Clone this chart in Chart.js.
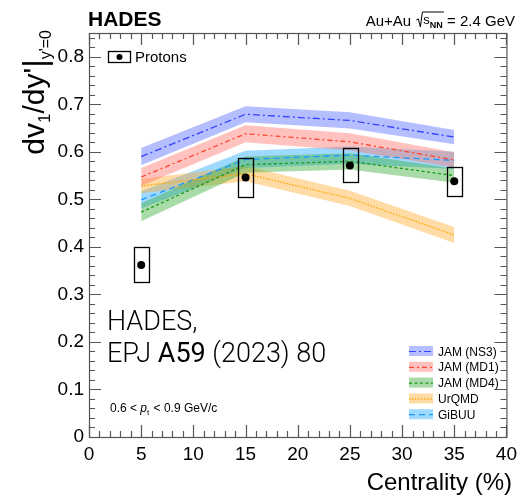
<!DOCTYPE html>
<html>
<head>
<meta charset="utf-8">
<script src="https://cdn.jsdelivr.net/npm/chart.js@4.4.1/dist/chart.umd.min.js"></script>
<style>
  html, body { margin: 0; padding: 0; background: #ffffff; }
  #wrap { width: 523px; height: 498px; position: relative; }
</style>
</head>
<body>
<div id="wrap"><canvas id="c"></canvas></div>
<script>
// Centrality classes (%)
const centrality = [5, 15, 25, 35];

// Proton dv1/dy' at y'=0 with systematic uncertainties
const protonSlope = [0.362, 0.546, 0.571, 0.538];
const protonSys = [0.037, 0.041, 0.036, 0.031];

// Transport model predictions: central value and half-width of the band
const jamNS3 = [0.590, 0.679, 0.666, 0.631];
const jamNS3Err = [0.018, 0.017, 0.017, 0.015];
const jamMD1 = [0.547, 0.638, 0.621, 0.583];
const jamMD1Err = [0.019, 0.018, 0.018, 0.016];
const jamMD4 = [0.473, 0.573, 0.580, 0.550];
const jamMD4Err = [0.019, 0.017, 0.017, 0.015];
const urqmd = [0.528, 0.554, 0.502, 0.425];
const urqmdErr = [0.015, 0.016, 0.016, 0.017];
const gibuu = [0.499, 0.584, 0.593, 0.582];
const gibuuErr = [0.018, 0.018, 0.018, 0.018];

const modelNames = ['JAM (NS3)', 'JAM (MD1)', 'JAM (MD4)', 'UrQMD', 'GiBUU'];

// Axis tick labels
const xTickLabels = ['0', '5', '10', '15', '20', '25', '30', '35', '40'];
const yTickLabels = ['0', '0.1', '0.2', '0.3', '0.4', '0.5', '0.6', '0.7', '0.8'];

const models = [
  { name: modelNames[0], mid: jamNS3, err: jamNS3Err, line: '#3344ff', band: 'rgba(90,110,255,0.45)', dash: [7, 3, 2, 3] },
  { name: modelNames[1], mid: jamMD1, err: jamMD1Err, line: '#ff4433', band: 'rgba(255,110,100,0.42)', dash: [5, 3, 2, 3] },
  { name: modelNames[2], mid: jamMD4, err: jamMD4Err, line: '#1a9a1a', band: 'rgba(50,170,50,0.42)', dash: [3, 2.5] },
  { name: modelNames[3], mid: urqmd, err: urqmdErr, line: '#ffa500', band: 'rgba(255,170,40,0.42)', dash: [1.5, 1.5] },
  { name: modelNames[4], mid: gibuu, err: gibuuErr, line: '#1899ff', band: 'rgba(40,170,255,0.45)', dash: [6, 4] }
];

const FONT = '"Liberation Sans", Arial, Helvetica, sans-serif';
const LIGHT = 'Roboto, "Liberation Sans", sans-serif';

const datasets = [];
// protons first so they are drawn on top
datasets.push({
  label: 'Protons',
  data: centrality.map((x, i) => ({ x: x, y: protonSlope[i] })),
  showLine: false,
  pointRadius: 4,
  pointHoverRadius: 4,
  pointBackgroundColor: '#000',
  pointBorderColor: '#000',
  borderWidth: 0
});
models.forEach(m => {
  datasets.push({
    label: m.name,
    data: centrality.map((x, i) => ({ x: x, y: m.mid[i] })),
    borderColor: m.line,
    borderDash: m.dash,
    borderWidth: 1.3,
    pointRadius: 0,
    fill: false,
    tension: 0
  });
});
models.forEach(m => {
  datasets.push({
    label: m.name + ' upper',
    data: centrality.map((x, i) => ({ x: x, y: m.mid[i] + m.err[i] })),
    borderWidth: 0,
    borderColor: 'rgba(0,0,0,0)',
    pointRadius: 0,
    backgroundColor: m.band,
    fill: '+1',
    tension: 0
  });
  datasets.push({
    label: m.name + ' lower',
    data: centrality.map((x, i) => ({ x: x, y: m.mid[i] - m.err[i] })),
    borderWidth: 0,
    borderColor: 'rgba(0,0,0,0)',
    pointRadius: 0,
    fill: false,
    tension: 0
  });
});

// Frame, inward ticks, systematic boxes, legends and annotations
const decorations = {
  id: 'decorations',
  afterDatasetsDraw(chart) {
    const { ctx, scales: { x, y } } = chart;
    ctx.save();
    ctx.strokeStyle = '#000';
    ctx.lineWidth = 1.3;
    centrality.forEach((c, i) => {
      const x0 = x.getPixelForValue(c - 0.7), x1 = x.getPixelForValue(c + 0.7);
      const y0 = y.getPixelForValue(protonSlope[i] + protonSys[i]);
      const y1 = y.getPixelForValue(protonSlope[i] - protonSys[i]);
      ctx.strokeRect(Math.round(x0) + 0.5, Math.round(y0) + 0.5, Math.round(x1 - x0), Math.round(y1 - y0));
    });
    ctx.restore();
  },
  afterDraw(chart) {
    const { ctx, chartArea: a, scales: { x, y } } = chart;
    ctx.save();
    // frame
    ctx.strokeStyle = '#555';
    ctx.lineWidth = 1.2;
    ctx.strokeRect(a.left + 0.5, a.top + 0.5, a.right - a.left, a.bottom - a.top);
    // x ticks (bottom and top)
    ctx.beginPath();
    for (let v = 0; v <= 40; v += 1) {
      const px = Math.round(x.getPixelForValue(v)) + 0.5;
      const len = v % 5 === 0 ? 12 : 6;
      ctx.moveTo(px, a.bottom); ctx.lineTo(px, a.bottom - len);
      ctx.moveTo(px, a.top); ctx.lineTo(px, a.top + len);
    }
    // y ticks (left and right)
    for (let k = 0; k <= 42; k++) {
      const v = k * 0.02;
      const py = Math.round(y.getPixelForValue(v)) + 0.5;
      const len = k % 5 === 0 ? 12 : 6;
      ctx.moveTo(a.left, py); ctx.lineTo(a.left + len, py);
      ctx.moveTo(a.right, py); ctx.lineTo(a.right - len, py);
    }
    ctx.stroke();

    // header
    ctx.fillStyle = '#000';
    ctx.textBaseline = 'alphabetic';
    ctx.font = 'bold 21px ' + FONT;
    ctx.textAlign = 'left';
    ctx.fillText('HADES', 88, 26);

    // Au+Au sqrt(s_NN) = 2.4 GeV
    const p1 = 'Au+Au ';
    const p3 = ' = 2.4 GeV';
    ctx.font = '15px ' + FONT;
    const w1 = ctx.measureText(p1).width;
    const w3 = ctx.measureText(p3).width;
    ctx.font = '13px ' + FONT;
    const wS = ctx.measureText('s').width;
    ctx.font = 'bold 9px ' + FONT;
    const wNN = ctx.measureText('NN').width;
    const wRoot = 8;
    const total = w1 + wRoot + wS + wNN + w3;
    let cx = 515 - total;
    ctx.font = '15px ' + FONT;
    ctx.fillText(p1, cx, 26); cx += w1;
    // radical sign
    ctx.strokeStyle = '#000';
    ctx.lineWidth = 1;
    ctx.beginPath();
    ctx.moveTo(cx + 1, 20); ctx.lineTo(cx + 3, 19); ctx.lineTo(cx + 5, 27); ctx.lineTo(cx + 7, 12);
    ctx.lineTo(cx + wRoot + wS + wNN + 1, 12);
    ctx.stroke();
    cx += wRoot;
    ctx.font = '13px ' + FONT;
    ctx.fillText('s', cx, 24); cx += wS;
    ctx.font = 'bold 9px ' + FONT;
    ctx.fillText('NN', cx, 28); cx += wNN;
    ctx.font = '15px ' + FONT;
    ctx.fillText(p3, cx, 26);

    // y-axis title, rotated, ending at the top of the frame
    ctx.save();
    ctx.translate(44, 30);
    ctx.rotate(-Math.PI / 2);
    const pieces = [
      { t: 'dv', f: '30px ' + FONT, dy: 0 },
      { t: '1', f: '17px ' + FONT, dy: 6 },
      { t: '/dy\'', f: '30px ' + FONT, dy: 0 },
      { t: '|', f: '33px ' + FONT, dy: 2 },
      { t: 'y\'=0', f: '16px ' + FONT, dy: 7 }
    ];
    let tw = 0;
    pieces.forEach(p => { ctx.font = p.f; p.w = ctx.measureText(p.t).width; tw += p.w; });
    let tx = -tw;
    ctx.textAlign = 'left';
    pieces.forEach(p => { ctx.font = p.f; ctx.fillText(p.t, tx, p.dy); tx += p.w; });
    ctx.restore();

    // x-axis title
    ctx.font = '24px ' + FONT;
    ctx.textAlign = 'right';
    ctx.fillText('Centrality (%)', 512, 490);

    // Protons legend
    ctx.textAlign = 'left';
    ctx.lineWidth = 1.3;
    ctx.strokeStyle = '#000';
    ctx.strokeRect(108.5, 51.5, 22, 11);
    ctx.beginPath(); ctx.arc(119.5, 57, 3, 0, Math.PI * 2); ctx.fill();
    ctx.font = '15px ' + FONT;
    ctx.fillText('Protons', 135, 62);

    // publication reference
    ctx.font = '300 27px ' + LIGHT;
    ctx.fillText('HADES,', 107, 330);
    let ex = 107;
    ctx.fillText('EPJ ', ex, 362); ex += ctx.measureText('EPJ ').width;
    ctx.font = '400 27px ' + LIGHT;
    ctx.fillText('A59', ex, 362); ex += ctx.measureText('A59').width;
    ctx.font = '300 27px ' + LIGHT;
    ctx.fillText(' (2023) 80', ex, 362);

    // transverse momentum range
    let qx = 110;
    ctx.font = '12px ' + FONT;
    ctx.fillText('0.6 < ', qx, 412); qx += ctx.measureText('0.6 < ').width;
    ctx.font = 'italic 12px ' + FONT;
    ctx.fillText('p', qx, 412); qx += ctx.measureText('p').width;
    ctx.font = '8px ' + FONT;
    ctx.fillText('t', qx, 415); qx += ctx.measureText('t').width + 1;
    ctx.font = '12px ' + FONT;
    ctx.fillText(' < 0.9 GeV/c', qx, 412);

    // model legend
    models.forEach((m, i) => {
      const ly = 351 + i * 15.8;
      ctx.fillStyle = m.band;
      ctx.fillRect(409, ly - 5, 24, 10);
      ctx.strokeStyle = m.line;
      ctx.lineWidth = 1.2;
      ctx.setLineDash(m.dash);
      ctx.beginPath(); ctx.moveTo(409, ly + 0.5); ctx.lineTo(433, ly + 0.5); ctx.stroke();
      ctx.setLineDash([]);
      ctx.fillStyle = '#000';
      ctx.font = '12px ' + FONT;
      ctx.fillText(m.name, 438, ly + 4.5);
    });
    ctx.restore();
  }
};

new Chart(document.getElementById('c'), {
  type: 'line',
  data: { datasets: datasets },
  options: {
    responsive: true,
    maintainAspectRatio: false,
    animation: false,
    events: [],
    layout: { padding: { top: 33, right: 11, left: 0, bottom: 0 } },
    plugins: { legend: { display: false }, tooltip: { enabled: false } },
    scales: {
      x: {
        type: 'linear', min: 0, max: 40,
        grid: { display: false, drawTicks: false },
        border: { display: false },
        ticks: {
          stepSize: 5, padding: 6, color: '#000', maxRotation: 0,
          font: { family: FONT, size: 19 },
          callback: v => { const i = Math.round(v / 5); return Math.abs(v - i * 5) < 1e-6 ? xTickLabels[i] : null; }
        },
        afterFit: s => { s.height = 61; }
      },
      y: {
        type: 'linear', min: 0, max: 0.85,
        grid: { display: false, drawTicks: false },
        border: { display: false },
        ticks: {
          stepSize: 0.1, padding: 5, color: '#000',
          font: { family: FONT, size: 19 },
          callback: v => { const i = Math.round(v * 10); return Math.abs(v * 10 - i) < 1e-6 ? yTickLabels[i] : null; }
        },
        afterFit: s => { s.width = 89; }
      }
    }
  },
  plugins: [decorations]
});
</script>
</body>
</html>
